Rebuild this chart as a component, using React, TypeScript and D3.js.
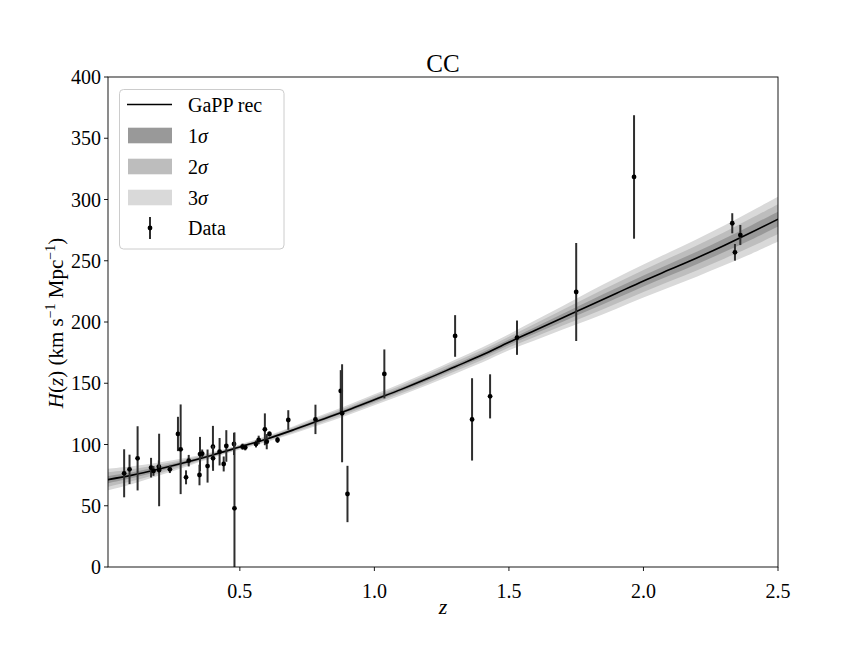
import React from "react";
import * as d3 from "d3";

// ---- Data ----
const dataZ = [0.07, 0.09, 0.12, 0.17, 0.179, 0.199, 0.2, 0.24, 0.27, 0.28, 0.3, 0.31, 0.35, 0.352, 0.36, 0.38, 0.4, 0.4004, 0.4247, 0.44, 0.4497, 0.4783, 0.48, 0.51, 0.52, 0.56, 0.57, 0.593, 0.6, 0.61, 0.64, 0.68, 0.781, 0.875, 0.88, 0.9, 1.037, 1.3, 1.363, 1.43, 1.53, 1.75, 1.965, 2.33, 2.34, 2.36];
const dataH = [76.5, 79.7, 88.7, 81.1, 78.4, 82, 79.2, 79.7, 108.6, 96.1, 73.2, 86.8, 75.1, 92.2, 92.5, 82.4, 98.2, 88.7, 94.1, 84.1, 98.8, 100.4, 47.9, 98.2, 97.6, 100.4, 103.7, 112.4, 102.3, 108.6, 103.7, 120, 120.5, 143.7, 125.5, 59.6, 157.6, 188.6, 120.5, 139.3, 187.2, 224.5, 318.4, 280.6, 256.9, 271];
const dataErr = [19.6, 12, 26.2, 8, 4, 5, 29.6, 3, 14, 36.6, 5.7, 4.7, 8.4, 14, 3.4, 13.5, 17, 10.2, 11.2, 6.1, 12.9, 9, 62, 2.5, 2.4, 2.8, 3.5, 13, 6.2, 2.1, 2.5, 8, 12, 17, 40, 23, 20, 17, 33.6, 18, 14, 40, 50.4, 8.2, 6.8, 8.2];

const recZ = [0, 0.1, 0.2, 0.3, 0.4, 0.5, 0.6, 0.7, 0.8, 0.9, 1.0, 1.1, 1.2, 1.3, 1.4, 1.5, 1.6, 1.7, 1.8, 1.9, 2.0, 2.1, 2.2, 2.3, 2.4, 2.5];
const recH = [71, 75, 80, 85.5, 91.5, 98, 104.5, 112, 120, 128, 136.5, 145, 154, 163.5, 173, 183.5, 193.5, 203.5, 213.5, 223.5, 233.5, 243, 252.5, 262.5, 273, 284];
const recSig = [3.0, 2.4, 1.8, 1.2, 0.8, 0.7, 0.8, 1.0, 1.2, 1.35, 1.5, 1.6, 1.75, 1.9, 2.05, 2.2, 2.7, 3.2, 3.8, 4.2, 4.5, 4.8, 5.1, 5.4, 5.8, 6.1];

const xTicks = [0.5, 1.0, 1.5, 2.0, 2.5];
const yTicks = [0, 50, 100, 150, 200, 250, 300, 350, 400];

const bandColors = ["#d9d9d9", "#bdbdbd", "#999999"]; // 3σ, 2σ, 1σ

const FONT = "'Liberation Serif', 'DejaVu Serif', serif";

export default function App() {
  const left = 108, right = 778, top = 77, bottom = 567;
  const x = d3.scaleLinear().domain([0.01, 2.5]).range([left, right]);
  const y = d3.scaleLinear().domain([0, 400]).range([bottom, top]);

  const rec = recZ.map((z, i) => ({ z, h: recH[i], s: recSig[i] }));
  const band = (k: number) =>
    d3.area<{ z: number; h: number; s: number }>()
      .x((d) => x(d.z))
      .y0((d) => y(d.h - k * d.s))
      .y1((d) => y(d.h + k * d.s))
      .curve(d3.curveCatmullRom)(rec) || "";
  const line = d3.line<{ z: number; h: number; s: number }>()
    .x((d) => x(d.z))
    .y((d) => y(d.h))
    .curve(d3.curveCatmullRom)(rec) || "";

  const legendRowY = [104.5, 135.5, 166.5, 197.5, 228];
  const legendLabels = ["1σ", "2σ", "3σ"];
  const legendPatch = [bandColors[2], bandColors[1], bandColors[0]];

  return (
    <svg width={864} height={648} style={{ position: "absolute", left: 0, top: 0, background: "#fff" }} fontFamily={FONT}>
      <defs>
        <clipPath id="plotclip">
          <rect x={left} y={top} width={right - left} height={bottom - top} />
        </clipPath>
      </defs>
      <g clipPath="url(#plotclip)">
        <path d={band(3)} fill={bandColors[0]} />
        <path d={band(2)} fill={bandColors[1]} />
        <path d={band(1)} fill={bandColors[2]} />
        <path d={line} fill="none" stroke="#000" strokeWidth={1.6} />
        {dataZ.map((z, i) => (
          <g key={i}>
            <line x1={x(z)} x2={x(z)} y1={y(dataH[i] - dataErr[i])} y2={y(dataH[i] + dataErr[i])} stroke="#2e2e2e" strokeWidth={2} />
            <circle cx={x(z)} cy={y(dataH[i])} r={2.4} fill="#000" />
          </g>
        ))}
      </g>
      {/* frame */}
      <rect x={left} y={top} width={right - left} height={bottom - top} fill="none" stroke="#000" strokeWidth={0.9} />
      {/* x ticks */}
      {xTicks.map((t) => (
        <g key={t}>
          <line x1={x(t)} x2={x(t)} y1={bottom} y2={bottom + 4} stroke="#000" strokeWidth={0.9} />
          <text x={x(t)} y={598} textAnchor="middle" fontSize={20}>{t.toFixed(1)}</text>
        </g>
      ))}
      {/* y ticks */}
      {yTicks.map((t) => (
        <g key={t}>
          <line x1={left - 4} x2={left} y1={y(t)} y2={y(t)} stroke="#000" strokeWidth={0.9} />
          <text x={101} y={y(t) + 7} textAnchor="end" fontSize={20}>{t}</text>
        </g>
      ))}
      {/* title */}
      <text x={(left + right) / 2} y={72} textAnchor="middle" fontSize={25}>CC</text>
      {/* x label */}
      <text x={(left + right) / 2} y={614} textAnchor="middle" fontSize={22} fontStyle="italic">z</text>
      {/* y label */}
      <text transform={`translate(63,323) rotate(-90)`} textAnchor="middle" fontSize={21}>
        <tspan fontStyle="italic">H</tspan>
        <tspan>(</tspan>
        <tspan fontStyle="italic">z</tspan>
        <tspan>) (km s</tspan>
        <tspan dy={-8} fontSize={14}>−1</tspan>
        <tspan dy={8}> Mpc</tspan>
        <tspan dy={-8} fontSize={14}>−1</tspan>
        <tspan dy={8}>)</tspan>
      </text>
      {/* legend */}
      <rect x={119.5} y={89.5} width={164.5} height={159.5} rx={4} fill="#fff" fillOpacity={0.8} stroke="#cccccc" strokeWidth={1} />
      <line x1={127} x2={172} y1={legendRowY[0]} y2={legendRowY[0]} stroke="#000" strokeWidth={1.6} />
      <text x={188} y={legendRowY[0] + 7} fontSize={20}>GaPP rec</text>
      {legendLabels.map((lab, i) => (
        <g key={lab}>
          <rect x={128} y={legendRowY[i + 1] - 7.8} width={44} height={15.6} fill={legendPatch[i]} />
          <text x={188} y={legendRowY[i + 1] + 7} fontSize={20}>
            <tspan>{lab[0]}</tspan>
            <tspan fontStyle="italic">{lab[1]}</tspan>
          </text>
        </g>
      ))}
      <line x1={150} x2={150} y1={legendRowY[4] - 11} y2={legendRowY[4] + 11} stroke="#2e2e2e" strokeWidth={2} />
      <circle cx={150} cy={legendRowY[4]} r={2.4} fill="#000" />
      <text x={188} y={legendRowY[4] + 7} fontSize={20}>Data</text>
    </svg>
  );
}
